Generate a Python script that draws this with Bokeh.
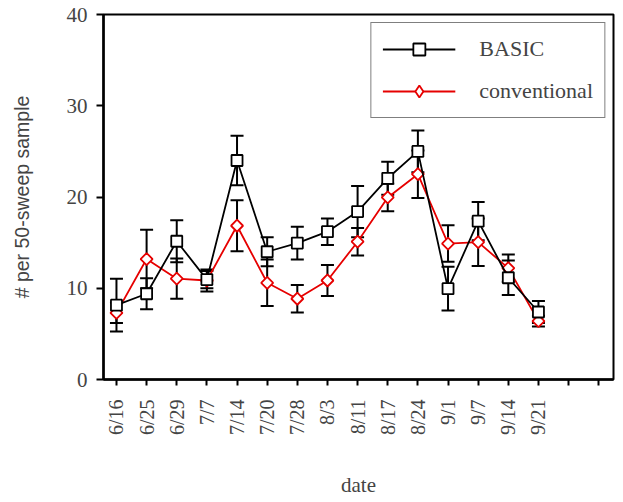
import math
from bokeh.plotting import figure
from bokeh.models import (ColumnDataSource, FixedTicker, Whisker, TeeHead,
                          Legend, LegendItem)
from bokeh.embed import file_html
from bokeh.resources import INLINE

dates = ["6/16", "6/25", "6/29", "7/7", "7/14", "7/20", "7/28", "8/3",
         "8/11", "8/17", "8/24", "9/1", "9/7", "9/14", "9/21"]
basic = [8.15, 9.4, 15.15, 10.95, 24.0, 14.0, 14.95, 16.2,
         18.4, 22.05, 25.0, 9.95, 17.35, 11.15, 7.4]
basic_err = [2.9, 1.7, 2.3, 0.95, 2.7, 1.6, 1.8, 1.45,
             2.8, 1.8, 2.3, 2.4, 2.1, 1.9, 1.2]
conv = [7.3, 13.2, 11.05, 10.85, 16.85, 10.6, 8.85, 10.85,
        15.1, 19.95, 22.5, 14.9, 15.05, 12.2, 6.4]
conv_err = [1.1, 3.2, 2.2, 1.2, 2.8, 2.55, 1.5, 1.7,
            1.5, 1.5, 2.6, 2.0, 2.6, 1.5, 0.6]
extra_ticks = 2
y_ticks = [0, 10, 20, 30, 40]

SERIF = "Liberation Serif"
RED = "#e60000"

xs = list(range(len(dates)))
src_b = ColumnDataSource(dict(x=xs, y=basic,
                              lo=[v - e for v, e in zip(basic, basic_err)],
                              hi=[v + e for v, e in zip(basic, basic_err)]))
src_c = ColumnDataSource(dict(x=xs, y=conv,
                              lo=[v - e for v, e in zip(conv, conv_err)],
                              hi=[v + e for v, e in zip(conv, conv_err)]))

p = figure(width=615, height=500, output_backend="svg", toolbar_location=None,
           x_range=(-0.43, len(dates) + extra_ticks - 1 + 0.49), y_range=(0, 40),
           min_border_left=103, min_border_right=2, min_border_top=14,
           min_border_bottom=118)
p.grid.visible = False
p.outline_line_color = "black"
p.outline_line_width = 2
p.outline_line_alpha = 1

# error bars
for src in (src_c, src_b):
    w = Whisker(source=src, base="x", upper="hi", lower="lo",
                line_color="black", line_width=2,
                upper_head=TeeHead(size=13, line_color="black", line_width=2),
                lower_head=TeeHead(size=13, line_color="black", line_width=2))
    p.add_layout(w)

lc = p.line("x", "y", source=src_c, line_color=RED, line_width=1.8)
mc = p.scatter("x", "y", source=src_c, marker="square", size=8.5, angle=math.pi / 4,
               fill_color="white", line_color=RED, line_width=1.8)
# legend-only diamond (legend glyphs ignore marker angle); hidden on the plot
leg_diamond = p.scatter("x", "y", source=src_c, marker="diamond", fill_color="white",
                        line_color=RED, line_width=1.8, visible=False)
lb = p.line("x", "y", source=src_b, line_color="black", line_width=1.8)
mb = p.scatter("x", "y", source=src_b, marker="square", size=11,
               fill_color="white", line_color="black", line_width=1.8)

legend = Legend(items=[LegendItem(label="BASIC", renderers=[lb, mb]),
                       LegendItem(label="conventional", renderers=[lc, leg_diamond])],
                location="top_right", margin=8, padding=11, spacing=12,
                glyph_width=73, glyph_height=30, label_height=30,
                label_standoff=24, label_text_font=SERIF,
                label_text_font_size="22px", border_line_color="black",
                border_line_width=1.5, background_fill_alpha=1,
                inactive_fill_alpha=0)
p.add_layout(legend)

# x axis
xa = p.xaxis[0]
xa.ticker = FixedTicker(ticks=list(range(len(dates) + extra_ticks)))
xa.major_label_overrides = {i: (dates[i] if i < len(dates) else "")
                            for i in range(len(dates) + extra_ticks)}
xa.major_label_orientation = math.pi / 2
xa.major_label_text_font = SERIF
xa.major_label_text_font_size = "20px"
xa.major_label_standoff = 14
xa.major_tick_out = 6
xa.major_tick_in = 0
xa.major_tick_line_width = 2
xa.minor_tick_line_color = None
xa.axis_line_width = 2.5
xa.axis_label = "date"
xa.axis_label_text_font = SERIF
xa.axis_label_text_font_size = "21px"
xa.axis_label_text_font_style = "normal"
xa.axis_label_standoff = 35

# y axis
ya = p.yaxis[0]
ya.ticker = FixedTicker(ticks=y_ticks)
ya.major_label_text_font = SERIF
ya.major_label_text_font_size = "21px"
ya.major_label_standoff = 9
ya.major_tick_out = 7
ya.major_tick_in = 0
ya.major_tick_line_width = 2
ya.minor_tick_line_color = None
ya.axis_line_width = 2.5
ya.axis_label = "# per 50-sweep sample"
ya.axis_label_text_font = "Liberation Sans"
ya.axis_label_text_font_size = "19.5px"
ya.axis_label_text_font_style = "normal"
ya.axis_label_standoff = 31

open("out.html", "w").write(file_html(p, INLINE))
